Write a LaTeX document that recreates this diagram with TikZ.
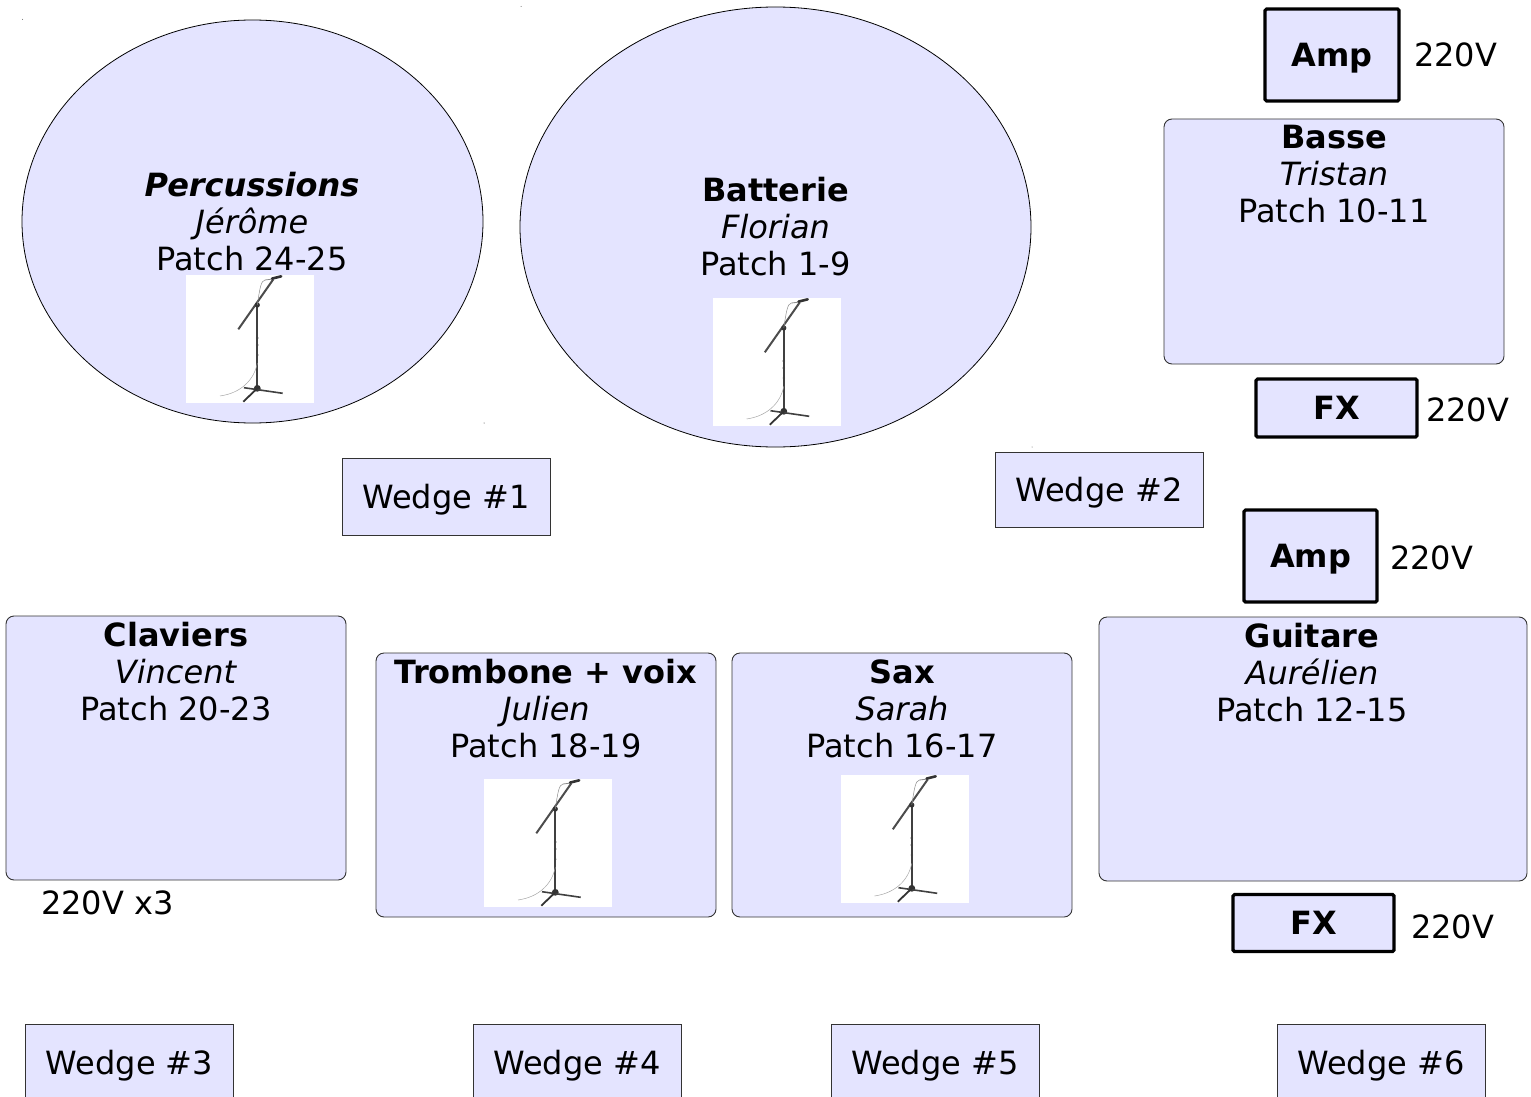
\documentclass[tikz,border=0pt]{standalone}
\usepackage{fontspec}
\usetikzlibrary{shapes.geometric}
\setmainfont{DejaVu Sans}
\definecolor{boxfill}{HTML}{E4E4FF}
\tikzset{
  every node/.style={font=\fontsize{32}{37}\selectfont,inner sep=0pt,outer sep=0pt},
  voicebox/.style={draw=black,line width=0.8pt,fill=boxfill,ellipse},
  panelbox/.style={draw=black!80,line width=0.9pt,fill=boxfill,rounded corners=8pt},
  wedgebox/.style={draw=black!80,line width=0.9pt,fill=boxfill,text depth=0pt},
  gearbox/.style={draw=black,line width=3.2pt,fill=boxfill,rounded corners=1.5pt,text depth=0pt,font=\fontsize{32}{37}\selectfont\bfseries},
  namelines/.style={align=center},
  micstand/.pic={
    \fill[white] (0,0) rectangle (128,128);
    \draw[black!70,line width=2pt] (52.3,54.3) -- (87.3,4.3);
    \draw[black!45,line width=0.8pt] (79,5) -- (87,4);
    \draw[black!80,line width=2.6pt,line cap=round] (86,3.6) -- (95.2,1.3);
    \draw[black!75,line width=1.8pt] (71.3,30) -- (71.3,113.3);
    \fill[black!80] (71.3,30) circle (2.6);
    \fill[black!75] (71.3,63) circle (1.4);
    \fill[black!75] (71.3,70) circle (1.4);
    \fill[black!75] (71.3,80) circle (1.2);
    \fill[black!80] (71.3,113.3) circle (3.4);
    \draw[black!75,line width=1.6pt] (58,112.7) -- (96.7,118.3);
    \draw[black!80,line width=1.8pt] (71.3,113.3) -- (57.3,126.7);
    \draw[black!45,line width=0.5pt] (79,5) .. controls (75,6) and (74,12) .. (71.3,30);
    \draw[black!35,line width=0.5pt] (71.3,88.3) .. controls (68,105) and (55,118) .. (34,121);
  }
}
\begin{document}
\begin{tikzpicture}[x=1pt,y=-1pt]
\useasboundingbox (0,0) rectangle (1531,1097);

	% specks left around the drums
	\fill[black!60] (22.5,19.5) circle (0.5);
	\fill[black!60] (521,6.5) circle (0.5);
	\fill[black!80] (484,423) circle (0.5);
	\fill[black!60] (1032,447) circle (0.5);

	% drums
	\node[voicebox,minimum width=461pt,minimum height=403pt] (percussions) at (252.5,221.5) {};
	\node[voicebox,minimum width=511pt,minimum height=440pt] (batterie) at (775.5,227) {};
	\node[namelines] (percussionstext) at (252,221.5) {\textbf{\textit{Percussions}}\\\textit{Jérôme}\\Patch 24-25};
	\node[namelines] (batterietext) at (775.5,227) {\textbf{Batterie}\\\textit{Florian}\\Patch 1-9};
	\pic at (186,275) {micstand};
	\pic at (712.5,298) {micstand};

	% bass
	\node[gearbox,minimum width=134pt,minimum height=92pt] (ampbasse) at (1332,55) {Amp};
	\node (voltampbasse) at (1455.5,55) {220V};
	\node[panelbox,minimum width=340pt,minimum height=245pt] (basse) at (1334,241.5) {};
	\node[namelines] (bassetext) at (1334,174.5) {\textbf{Basse}\\\textit{Tristan}\\Patch 10-11};
	\node[gearbox,minimum width=161pt,minimum height=58pt] (fxbasse) at (1336.5,408) {FX};
	\node (voltfxbasse) at (1467.5,409.5) {220V};

	% guitar
	\node[gearbox,minimum width=133pt,minimum height=92pt] (ampguitare) at (1310.5,556) {Amp};
	\node (voltampguitare) at (1431.5,557.5) {220V};
	\node[panelbox,minimum width=428pt,minimum height=264pt] (guitare) at (1313,749) {};
	\node[namelines] (guitaretext) at (1312,672.5) {\textbf{Guitare}\\\textit{Aurélien}\\Patch 12-15};
	\node[gearbox,minimum width=161pt,minimum height=57pt] (fxguitare) at (1313.5,923) {FX};
	\node (voltfxguitare) at (1452.5,926.5) {220V};

	% front line
	\node[panelbox,minimum width=340pt,minimum height=264pt] (claviers) at (176,748) {};
	\node[namelines] (clavierstext) at (176,671.5) {\textbf{Claviers}\\\textit{Vincent}\\Patch 20-23};
	\node (voltclaviers) at (107.5,903) {220V x3};
	\node[panelbox,minimum width=340pt,minimum height=264pt] (trombone) at (546,785) {};
	\node[namelines] (trombonetext) at (546,708.5) {\textbf{Trombone + voix}\\\textit{Julien}\\Patch 18-19};
	\pic at (484,779) {micstand};
	\node[panelbox,minimum width=340pt,minimum height=264pt] (sax) at (902,785) {};
	\node[namelines] (saxtext) at (902,708.5) {\textbf{Sax}\\\textit{Sarah}\\Patch 16-17};
	\pic at (840.5,775) {micstand};

	% wedges
	\node[wedgebox,minimum width=208pt,minimum height=77pt] (wedgeone) at (446,496.5) {Wedge \#1};
	\node[wedgebox,minimum width=208pt,minimum height=75pt] (wedgetwo) at (1099,489.5) {Wedge \#2};
	\node[wedgebox,minimum width=208pt,minimum height=76pt] (wedgethree) at (129.5,1062.5) {Wedge \#3};
	\node[wedgebox,minimum width=208pt,minimum height=76pt] (wedgefour) at (577,1062.5) {Wedge \#4};
	\node[wedgebox,minimum width=208pt,minimum height=76pt] (wedgefive) at (935,1062.5) {Wedge \#5};
	\node[wedgebox,minimum width=208pt,minimum height=76pt] (wedgesix) at (1381,1062.5) {Wedge \#6};

\end{tikzpicture}
\end{document}
